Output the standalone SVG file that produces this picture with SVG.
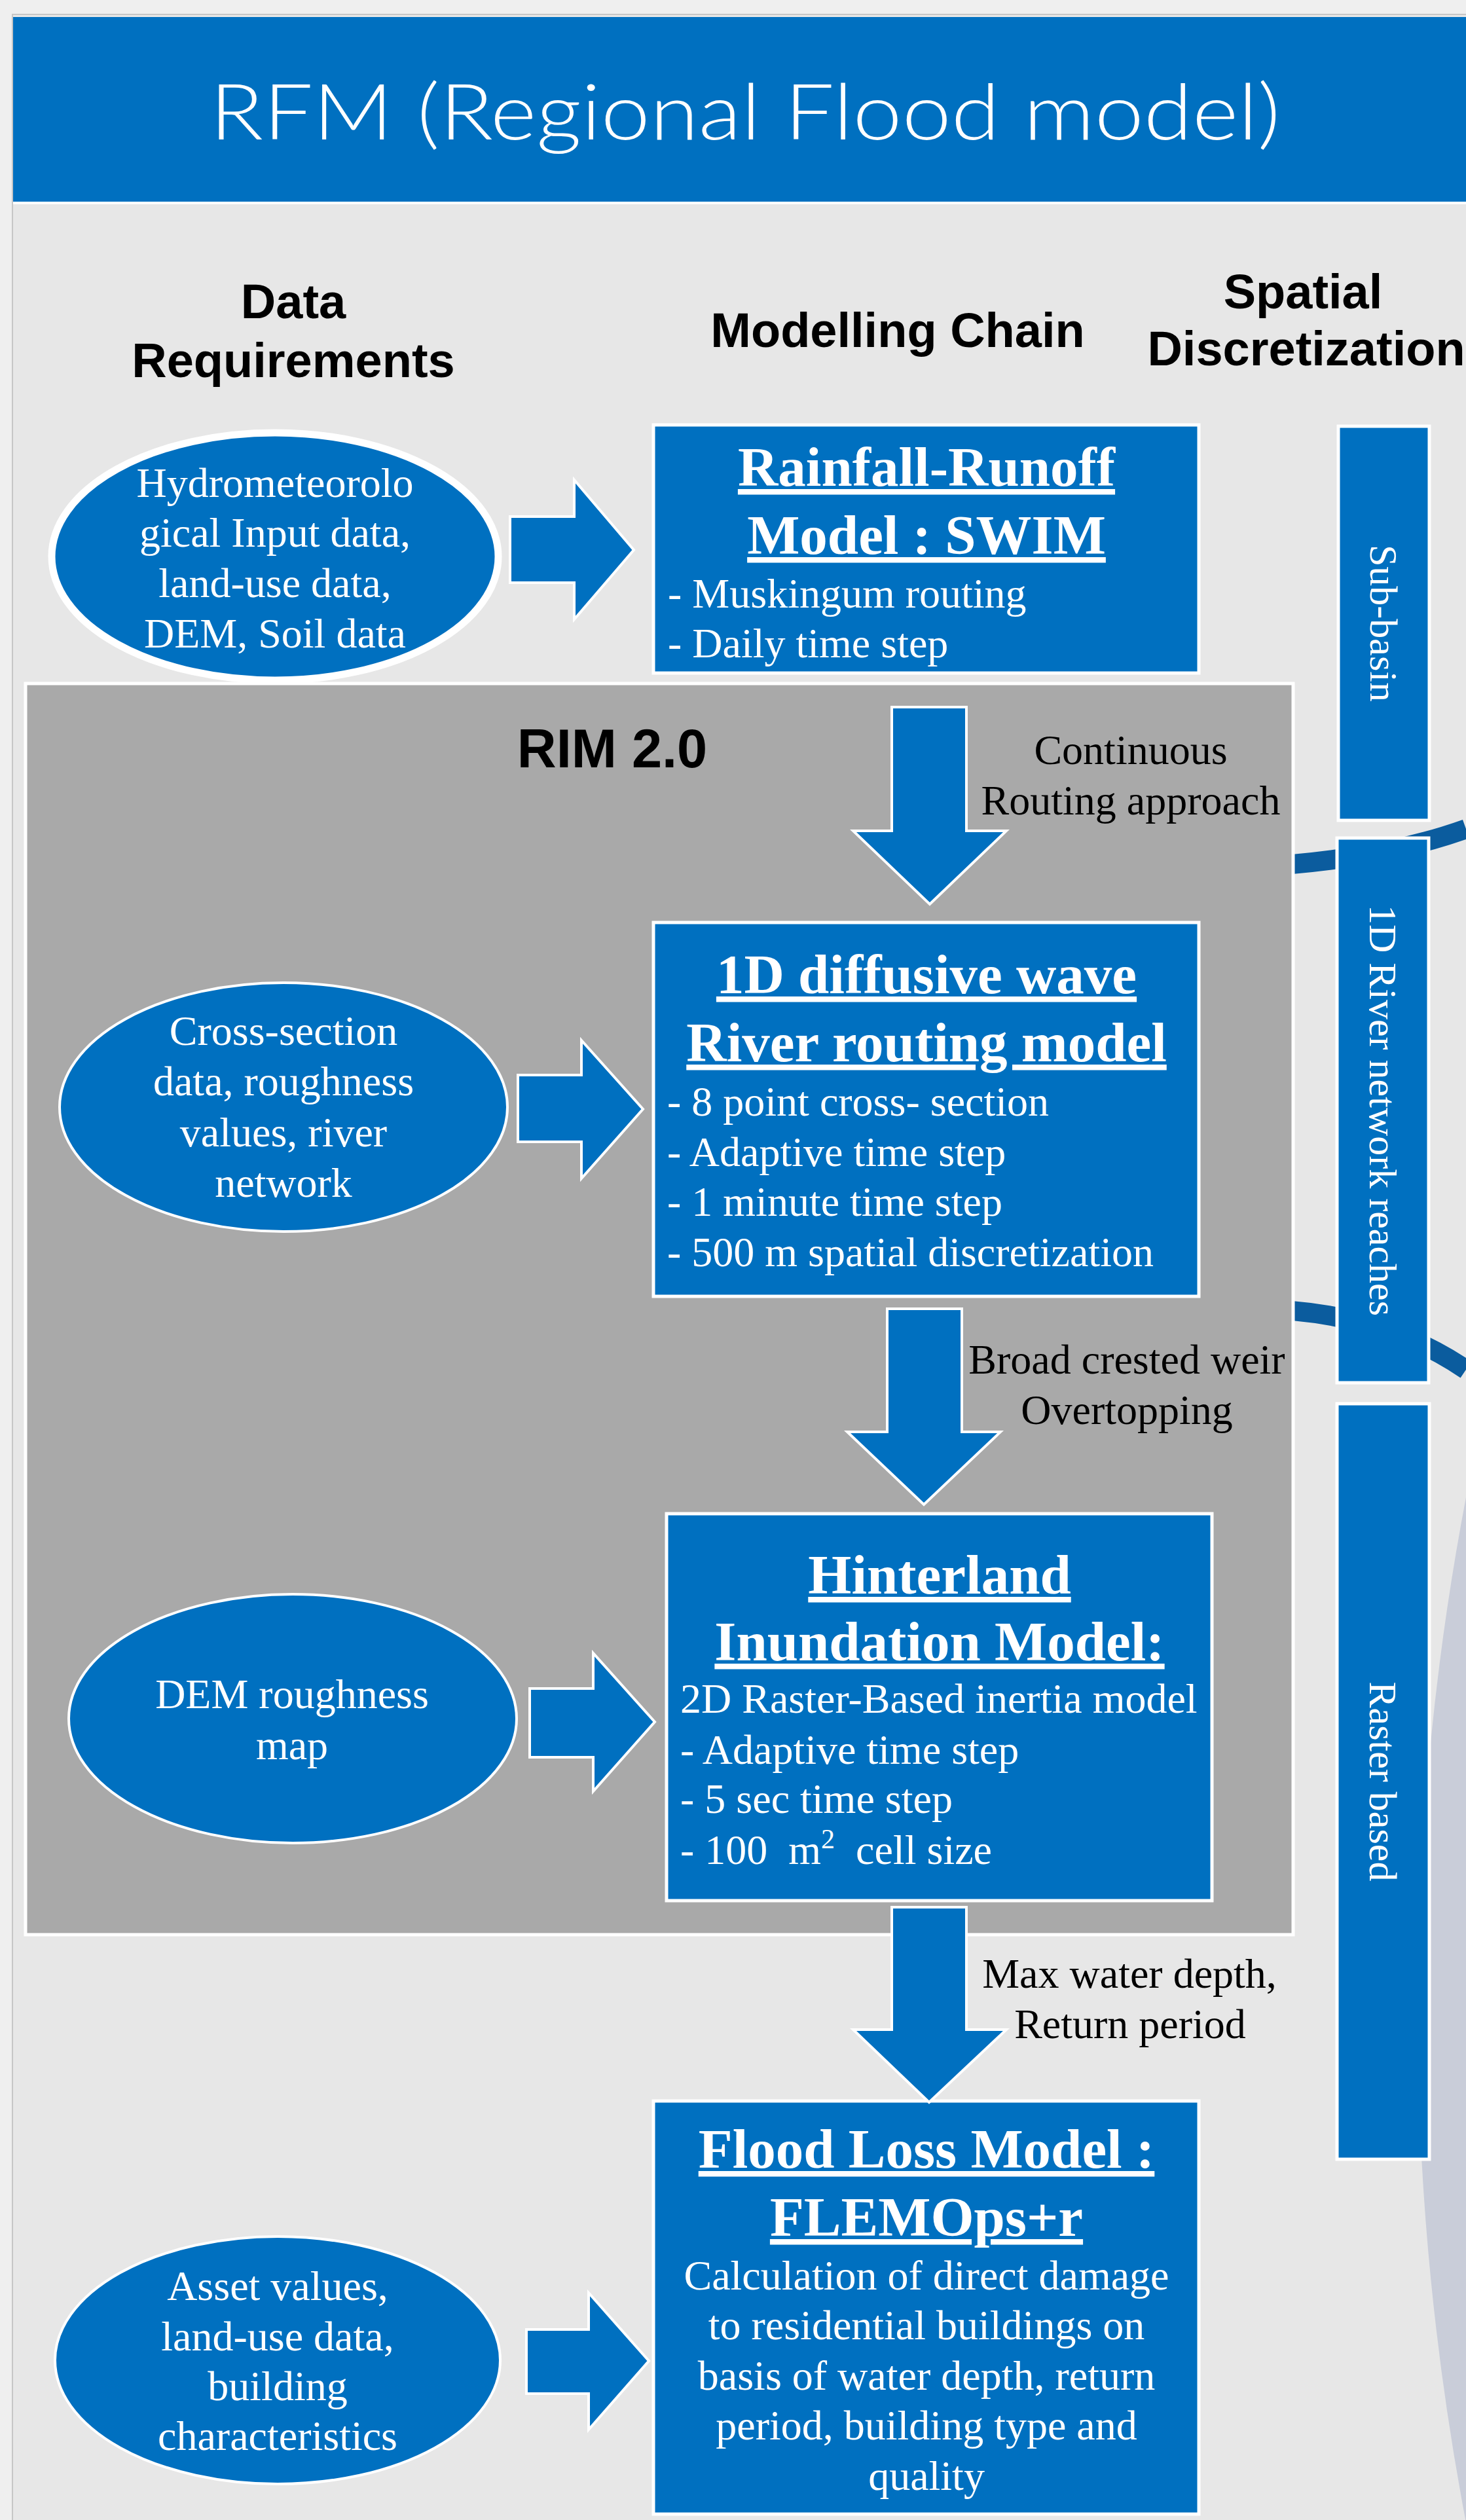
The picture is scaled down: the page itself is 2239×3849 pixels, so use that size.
<svg xmlns="http://www.w3.org/2000/svg" width="2239" height="3849" viewBox="0 0 2239 3849">
<style>
.serif{font-family:"Liberation Serif","Times New Roman",serif}
.sans{font-family:"Liberation Sans",Arial,sans-serif}
.wt{fill:#ffffff}
.bk{fill:#000000}
.t64{font-size:64px}
.ttl{font-size:85px;font-weight:bold;text-decoration:underline}
.hd{font-size:74px;font-weight:bold}
.mid{text-anchor:middle}
.blue{fill:#0070c0;stroke:#ffffff;stroke-width:5}
.ell{fill:#0070c0;stroke:#ffffff;stroke-width:4}
.arr{fill:#0070c0;stroke:#ffffff;stroke-width:4;stroke-linejoin:miter}
.arc{fill:none;stroke:#0b5c9e;stroke-width:30}
.vt{font-size:60px}
</style>
<!-- page -->
<rect x="0" y="0" width="2239" height="3849" fill="#efefef"/>
<rect x="19" y="22" width="2230" height="3840" fill="#e7e7e7" stroke="#c6c6c6" stroke-width="2"/>
<!-- background decoration -->
<g id="background">
<circle cx="6344" cy="3070" r="4179" fill="#c9cdd9"/>
<path class="arc" d="M1900 1325 C2010 1320 2130 1305 2239 1266"/>
<path class="arc" d="M1900 2000 C2010 1998 2130 2018 2239 2092"/>
</g>
<!-- header -->
<g id="header">
<rect x="20" y="26" width="2219" height="282" fill="#0070c0"/>
<line x1="20" y1="310" x2="2239" y2="310" stroke="#ffffff" stroke-width="4"/>
<text x="1138" y="213" font-family="Lato,'Open Sans','Liberation Sans',sans-serif" font-weight="300" font-size="118" fill="#ffffff" text-anchor="middle" textLength="1635" lengthAdjust="spacingAndGlyphs">RFM (Regional Flood model)</text>
</g>
<!-- column headings -->
<g id="col-headings" class="sans hd bk">
<text class="mid" x="448" y="486">Data</text>
<text class="mid" x="448" y="576">Requirements</text>
<text class="mid" x="1371" y="530">Modelling Chain</text>
<text class="mid" x="1990" y="471">Spatial</text>
<text class="mid" x="1995" y="558">Discretization</text>
</g>
<!-- RIM 2.0 container -->
<g id="rim">
<rect x="39" y="1044" width="1936" height="1911" fill="#a9a9a9" stroke="#ffffff" stroke-width="5"/>
<text class="sans bk mid" x="935" y="1172" font-size="83" font-weight="bold">RIM 2.0</text>
</g>
<!-- spatial discretization bars -->
<g id="sub-basin">
<rect class="blue" x="2044" y="651" width="139" height="602"/>
<text class="serif wt vt mid" transform="translate(2113 952) rotate(90)" y="20">Sub-basin</text>
</g>
<g id="river-reaches">
<rect class="blue" x="2042" y="1280" width="140" height="832"/>
<text class="serif wt vt mid" transform="translate(2112 1696) rotate(90)" y="20">1D River network reaches</text>
</g>
<g id="raster-based">
<rect class="blue" x="2042" y="2144" width="141" height="1154"/>
<text class="serif wt vt mid" transform="translate(2112 2721) rotate(90)" y="20">Raster based</text>
</g>
<!-- data requirement ellipses -->
<g id="data-hydro">
<ellipse cx="420" cy="850" rx="341" ry="189" fill="#0070c0" stroke="#ffffff" stroke-width="11"/>
<text class="serif wt t64 mid" x="420" y="759">Hydrometeorolo</text>
<text class="serif wt t64 mid" x="420" y="835">gical Input data,</text>
<text class="serif wt t64 mid" x="420" y="912">land-use data,</text>
<text class="serif wt t64 mid" x="420" y="989">DEM, Soil data</text>
</g>
<g id="data-cross">
<ellipse class="ell" cx="433" cy="1691" rx="342" ry="190"/>
<text class="serif wt t64 mid" x="433" y="1596">Cross-section</text>
<text class="serif wt t64 mid" x="433" y="1673">data, roughness</text>
<text class="serif wt t64 mid" x="433" y="1751">values, river</text>
<text class="serif wt t64 mid" x="433" y="1828">network</text>
</g>
<g id="data-dem">
<ellipse class="ell" cx="447" cy="2625" rx="342" ry="190"/>
<text class="serif wt t64 mid" x="446" y="2609">DEM roughness</text>
<text class="serif wt t64 mid" x="446" y="2687">map</text>
</g>
<g id="data-asset">
<ellipse class="ell" cx="424" cy="3605" rx="340" ry="189"/>
<text class="serif wt t64 mid" x="424" y="3513">Asset values,</text>
<text class="serif wt t64 mid" x="424" y="3590">land-use data,</text>
<text class="serif wt t64 mid" x="424" y="3666">building</text>
<text class="serif wt t64 mid" x="424" y="3742">characteristics</text>
</g>
<!-- model chain boxes -->
<g id="swim">
<rect class="blue" x="998" y="649" width="833" height="379"/>
<text class="serif wt ttl mid" x="1415" y="742">Rainfall-Runoff</text>
<text class="serif wt ttl mid" x="1415" y="846">Model : SWIM</text>
<text class="serif wt t64" x="1020" y="928">- Muskingum routing</text>
<text class="serif wt t64" x="1020" y="1004">- Daily time step</text>
</g>
<g id="river-routing">
<rect class="blue" x="998" y="1409" width="833" height="571"/>
<text class="serif wt ttl mid" x="1415" y="1517">1D diffusive wave</text>
<text class="serif wt ttl mid" x="1415" y="1621">River routing model</text>
<text class="serif wt t64" x="1019" y="1704">- 8 point cross- section</text>
<text class="serif wt t64" x="1019" y="1781">- Adaptive time step</text>
<text class="serif wt t64" x="1019" y="1857">- 1 minute time step</text>
<text class="serif wt t64" x="1019" y="1934">- 500 m spatial discretization</text>
</g>
<g id="hinterland">
<rect class="blue" x="1018" y="2312" width="833" height="591"/>
<text class="serif wt ttl mid" x="1435" y="2434">Hinterland</text>
<text class="serif wt ttl mid" x="1435" y="2536">Inundation Model:</text>
<text class="serif wt t64" x="1039" y="2616">2D Raster-Based inertia model</text>
<text class="serif wt t64" x="1039" y="2694">- Adaptive time step</text>
<text class="serif wt t64" x="1039" y="2769">- 5 sec time step</text>
<text class="serif wt t64" x="1039" y="2847" style="white-space:pre">- 100  m<tspan font-size="42" dy="-24">2</tspan><tspan dy="24">  cell size</tspan></text>
</g>
<g id="flood-loss">
<rect class="blue" x="998" y="3209" width="833" height="631"/>
<text class="serif wt ttl mid" x="1415" y="3311">Flood Loss Model :</text>
<text class="serif wt ttl mid" x="1415" y="3415">FLEMOps+r</text>
<text class="serif wt t64 mid" x="1415" y="3497">Calculation of direct damage</text>
<text class="serif wt t64 mid" x="1415" y="3573">to residential buildings on</text>
<text class="serif wt t64 mid" x="1415" y="3650">basis of water depth, return</text>
<text class="serif wt t64 mid" x="1415" y="3726">period, building type and</text>
<text class="serif wt t64 mid" x="1415" y="3803">quality</text>
</g>
<!-- connectors -->
<g id="connectors">
<polygon class="arr" points="779,789 877,789 877,733 968,840 877,946 877,890 779,890"/>
<polygon class="arr" points="791,1642 888,1642 888,1589 982,1694 888,1800 888,1744 791,1744"/>
<polygon class="arr" points="809,2579 906,2579 906,2525 1000,2630 906,2736 906,2684 809,2684"/>
<polygon class="arr" points="804,3558 899,3558 899,3502 991,3606 899,3711 899,3656 804,3656"/>
<polygon class="arr" points="1362,1080 1476,1080 1476,1269 1537,1269 1420,1381 1303,1269 1362,1269"/>
<polygon class="arr" points="1355,1999 1469,1999 1469,2187 1528,2187 1411,2298 1294,2187 1355,2187"/>
<polygon class="arr" points="1362,2913 1476,2913 1476,3100 1537,3100 1419,3211 1303,3100 1362,3100"/>
<text class="serif bk t64 mid" x="1727" y="1167">Continuous</text>
<text class="serif bk t64 mid" x="1727" y="1244">Routing approach</text>
<text class="serif bk t64 mid" x="1721" y="2098">Broad crested weir</text>
<text class="serif bk t64 mid" x="1721" y="2175">Overtopping</text>
<text class="serif bk t64 mid" x="1725" y="3036">Max water depth,</text>
<text class="serif bk t64 mid" x="1726" y="3113">Return period</text>
</g>
</svg>
